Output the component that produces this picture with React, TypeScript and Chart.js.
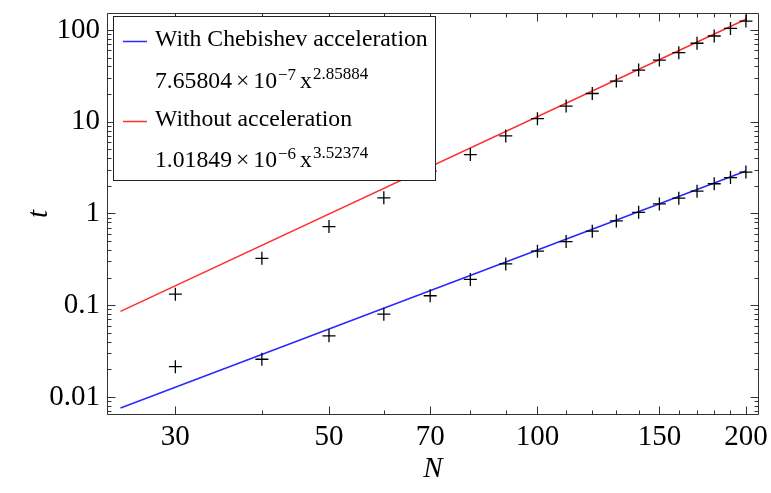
import React, { useEffect, useRef } from 'react';
import { Chart, registerables } from 'chart.js';

Chart.register(...registerables);

// ---- data ----
const N_VALUES = [30, 40, 50, 60, 70, 80, 90, 100, 110, 120, 130, 140, 150, 160, 170, 180, 190, 200];
const T_CHEBISHEV = [0.0214, 0.0258, 0.0464, 0.08, 0.127, 0.191, 0.282, 0.388, 0.494, 0.641, 0.83, 1.03, 1.27, 1.47, 1.75, 2.11, 2.46, 2.83];
const T_WITHOUT = [0.132, 0.325, 0.72, 1.48, 2.9, 4.38, 7.0, 10.8, 14.8, 20.3, 27.7, 36.5, 47, 56.5, 71.6, 85.9, 104, 125];
const FIT_N = [25, 200];
const FIT_CHEBISHEV = [0.0076, 2.9];
const FIT_WITHOUT = [0.0858, 130.7];

const X_TICKS = [30, 50, 70, 100, 150, 200];
const X_TICK_LABELS = ['30', '50', '70', '100', '150', '200'];
const X_MINOR = [40, 60, 80, 90, 110, 120, 130, 140, 160, 170, 180, 190];
const Y_TICKS = [0.01, 0.1, 1, 10, 100];
const Y_TICK_LABELS = ['0.01', '0.1', '1', '10', '100'];
const Y_MINOR_MULT = [2, 3, 4, 5, 6, 7, 8, 9];
const Y_MINOR_DECADES = [0.001, 0.01, 0.1, 1, 10, 100];

const LEGEND_LABELS = ['With Chebishev acceleration', 'Without acceleration'];
const LEGEND_COEF = ['7.65804', '1.01849'];
const LEGEND_EXP10 = ['\u22127', '\u22126'];
const LEGEND_POW = ['2.85884', '3.52374'];
const LEGEND_COLORS = ['rgb(40,40,255)', 'rgb(255,45,45)'];

const X_MIN = 23.9;
const X_MAX = 208.9;
const Y_MIN = 0.00637;
const Y_MAX = 153;

const SERIF = '"Liberation Serif", "Times New Roman", serif';

const frameTicks = {
  id: 'frameTicks',
  beforeDatasetsDraw(chart: any) {
    const { ctx, chartArea, scales } = chart;
    const { left, right, top, bottom } = chartArea;
    const x = scales.x;
    const y = scales.y;
    ctx.save();
    ctx.strokeStyle = '#333';
    ctx.lineWidth = 1;
    const L = Math.round(left) + 0.5;
    const R = Math.round(right) - 0.5;
    const T = Math.round(top) + 0.5;
    const B = Math.round(bottom) - 0.5;
    ctx.beginPath();
    ctx.rect(L, T, R - L, B - T);
    ctx.stroke();
    const major = 8;
    const minor = 4;
    ctx.beginPath();
    const xt = (v: number, len: number) => {
      const px = Math.round(x.getPixelForValue(v)) + 0.5;
      if (px < L || px > R) return;
      ctx.moveTo(px, B); ctx.lineTo(px, B - len);
      ctx.moveTo(px, T); ctx.lineTo(px, T + len);
    };
    const yt = (v: number, len: number) => {
      const py = Math.round(y.getPixelForValue(v)) + 0.5;
      if (py < T || py > B) return;
      ctx.moveTo(L, py); ctx.lineTo(L + len, py);
      ctx.moveTo(R, py); ctx.lineTo(R - len, py);
    };
    X_TICKS.forEach((v) => xt(v, major));
    X_MINOR.forEach((v) => xt(v, minor));
    Y_TICKS.forEach((v) => yt(v, major));
    Y_MINOR_DECADES.forEach((d) => Y_MINOR_MULT.forEach((m) => yt(d * m, minor)));
    ctx.stroke();
    ctx.restore();
  },
};

const legendBox = {
  id: 'legendBox',
  afterDatasetsDraw(chart: any) {
    const { ctx } = chart;
    ctx.save();
    const bx = 113.5, by = 16.5, bw = 322, bh = 164;
    ctx.fillStyle = '#fff';
    ctx.fillRect(bx, by, bw, bh);
    ctx.strokeStyle = '#222';
    ctx.lineWidth = 1;
    ctx.strokeRect(bx, by, bw, bh);
    const big = `23.7px ${SERIF}`;
    const small = `17px ${SERIF}`;
    ctx.fillStyle = '#000';
    ctx.textBaseline = 'alphabetic';
    ctx.textAlign = 'left';
    const rows = [46, 126];
    const fRows = [87.5, 167];
    for (let i = 0; i < 2; i++) {
      const sy = rows[i] - 4.5;
      ctx.strokeStyle = LEGEND_COLORS[i];
      ctx.lineWidth = 1.5;
      ctx.beginPath();
      ctx.moveTo(123, sy);
      ctx.lineTo(147, sy);
      ctx.stroke();
      ctx.font = big;
      ctx.fillText(LEGEND_LABELS[i], 155, rows[i]);
      // formula
      let cx = 155;
      const fy = fRows[i];
      ctx.font = big;
      ctx.fillText(LEGEND_COEF[i], cx, fy);
      cx += ctx.measureText(LEGEND_COEF[i]).width + 4;
      ctx.fillText('\u00d7', cx, fy);
      cx += ctx.measureText('\u00d7').width + 4;
      ctx.fillText('10', cx, fy);
      cx += ctx.measureText('10').width + 1;
      ctx.font = small;
      ctx.fillText(LEGEND_EXP10[i], cx, fy - 8);
      cx += ctx.measureText(LEGEND_EXP10[i]).width + 4;
      ctx.font = big;
      ctx.fillText('x', cx, fy);
      cx += ctx.measureText('x').width + 1;
      ctx.font = small;
      ctx.fillText(LEGEND_POW[i], cx, fy - 9);
    }
    ctx.restore();
  },
};

export default function App() {
  const ref = useRef<HTMLCanvasElement | null>(null);
  useEffect(() => {
    document.body.style.margin = '0';
    const canvas = ref.current;
    if (!canvas) return;
    const chart = new Chart(canvas, {
      type: 'scatter',
      data: {
        datasets: [
          {
            label: 'Chebishev data',
            data: N_VALUES.map((n, i) => ({ x: n, y: T_CHEBISHEV[i] })),
            pointStyle: 'cross',
            pointRadius: 6.5,
            borderColor: '#000',
            borderWidth: 1.3,
            backgroundColor: '#000',
            showLine: false,
          },
          {
            label: 'Without data',
            data: N_VALUES.map((n, i) => ({ x: n, y: T_WITHOUT[i] })),
            pointStyle: 'cross',
            pointRadius: 6.5,
            borderColor: '#000',
            borderWidth: 1.3,
            backgroundColor: '#000',
            showLine: false,
          },
          {
            label: LEGEND_LABELS[0],
            data: FIT_N.map((n, i) => ({ x: n, y: FIT_CHEBISHEV[i] })),
            showLine: true,
            pointRadius: 0,
            borderColor: LEGEND_COLORS[0],
            borderWidth: 1.5,
          },
          {
            label: LEGEND_LABELS[1],
            data: FIT_N.map((n, i) => ({ x: n, y: FIT_WITHOUT[i] })),
            showLine: true,
            pointRadius: 0,
            borderColor: LEGEND_COLORS[1],
            borderWidth: 1.5,
          },
        ],
      },
      options: {
        animation: false,
        responsive: false,
        layout: { padding: { top: 13, right: 12, left: 0, bottom: 0 } },
        plugins: { legend: { display: false }, tooltip: { enabled: false } },
        scales: {
          x: {
            type: 'logarithmic',
            min: X_MIN,
            max: X_MAX,
            afterBuildTicks: (s: any) => {
              s.ticks = X_TICKS.map((v) => ({ value: v }));
            },
            afterFit: (s: any) => {
              s.height = 78;
              s.paddingLeft = 0;
              s.paddingRight = 0;
            },
            grid: { display: false, drawTicks: false },
            border: { display: false },
            ticks: {
              autoSkip: false,
              maxRotation: 0,
              padding: 5,
              color: '#000',
              font: { family: SERIF, size: 29 },
              callback: (_v: any, i: number) => X_TICK_LABELS[i],
            },
            title: {
              display: true,
              text: 'N',
              color: '#000',
              font: { family: SERIF, size: 29, style: 'italic' },
              padding: { top: 0, bottom: 6 },
            },
          },
          y: {
            type: 'logarithmic',
            min: Y_MIN,
            max: Y_MAX,
            afterBuildTicks: (s: any) => {
              s.ticks = Y_TICKS.map((v) => ({ value: v }));
            },
            afterFit: (s: any) => {
              s.width = 107;
              s.paddingTop = 0;
              s.paddingBottom = 0;
            },
            grid: { display: false, drawTicks: false },
            border: { display: false },
            ticks: {
              autoSkip: false,
              padding: 7,
              color: '#000',
              font: { family: SERIF, size: 29 },
              callback: (_v: any, i: number) => Y_TICK_LABELS[i],
            },
            title: {
              display: true,
              text: 't',
              color: '#000',
              font: { family: SERIF, size: 29, style: 'italic' },
              padding: { top: 22, bottom: 0 },
            },
          },
        },
      },
      plugins: [frameTicks, legendBox],
    } as any);
    return () => chart.destroy();
  }, []);
  return (
    <div style={{ width: 771, height: 493 }}>
      <canvas ref={ref} width={771} height={493} style={{ display: 'block' }} />
    </div>
  );
}
